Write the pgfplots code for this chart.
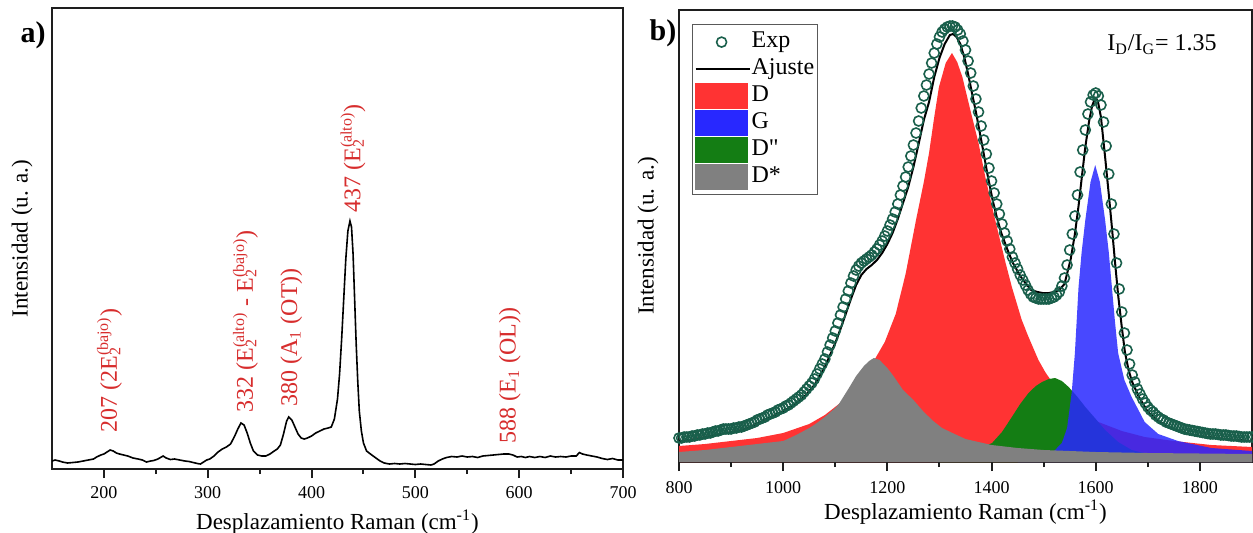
\documentclass[border=0pt]{standalone}
\usepackage{fontspec}
\setmainfont{Liberation Serif}
\usepackage{pgfplots}
\pgfplotsset{compat=1.18}
\usetikzlibrary{calc}

\definecolor{lblred}{RGB}{215,45,45}
\definecolor{cD}{RGB}{255,51,51}
\definecolor{cG}{RGB}{40,40,255}
\definecolor{cDpp}{RGB}{20,125,20}
\definecolor{cDs}{RGB}{128,128,128}
\definecolor{cexp}{RGB}{25,95,75}
\definecolor{axcol}{RGB}{30,30,30}

% E_2 with stacked sub- and superscript
\newcommand{\Etwo}[1]{E\rlap{\textsubscript{2}}\textsuperscript{(#1)}}

\pgfplotsset{
  panel/.style={
    scale only axis,
    axis line style={draw=axcol, line width=0.9pt},
    xtick align=outside,
    xtick pos=bottom,
    ytick=\empty,
    major tick length=4.5pt,
    minor tick length=2.5pt,
    major tick style={draw=axcol, line width=1pt},
    minor tick style={draw=axcol, line width=1pt},
    /pgf/number format/1000 sep={},
    /pgf/number format/assume math mode=true,
    xticklabel style={font=\fontsize{9}{10}\selectfont},
    label style={font=\fontsize{11.5}{13}\selectfont},
    ymin=0,
  },
}

\begin{document}
\begin{tikzpicture}
\useasboundingbox (0,0) rectangle (626.5pt,266pt);

% ---------------- panel a ----------------
\begin{axis}[panel, name=pa,
    at={(26pt,31.5pt)}, anchor=south west,
    width=285.5pt, height=230.5pt,
    xmin=150, xmax=700, ymax=461,
    xtick={200,300,400,500,600,700},
    minor xtick={250,350,450,550,650},
    xticklabel style={yshift=-0.5pt},
    xlabel={Desplazamiento Raman (cm\textsuperscript{-1})},
    xlabel style={at={(axis description cs:0.5,0)}, anchor=center, yshift=-26.5pt},
    ylabel={Intensidad (u. a.)},
    ylabel style={at={(axis description cs:-0.0525,0.5)}, anchor=center},
]
\addplot[black, line width=0.8pt] coordinates {
(150,8) (153,9) (157,8) (160,7) (165,6) (170,6.5) (175,7) (180,8) (185,9) (190,10)
(193,12) (197,14) (200,15) (203,17) (206,19) (209,18) (212,16) (215,15) (219,14) (223,13)
(228,11) (233,10) (237,9) (241,7) (245,8) (248,8.5) (252,10) (257,13) (260,11) (264,9.5)
(268,10) (273,9) (278,8) (282,7.5) (286,6.5) (290,5.5) (293,5) (296,7) (299,9) (302,10)
(306,13) (310,17) (314,20) (318,22) (322,25) (326,33) (329,40) (332,46) (335,44) (338,36)
(341,26) (344,18) (348,14) (352,13) (356,13) (360,15) (364,18) (367,20) (370,24) (373,35)
(376,48) (378,52) (381,49) (384,42) (387,35) (390,31) (393,30) (396,31) (400,33) (404,36)
(408,38) (412,40) (416,41) (419,42) (422,50) (425,70) (427,95) (429,130) (431,170) (433,210)
(435,238) (437,248) (438.5,242) (440,215) (441.5,170) (443,125) (444.5,88) (446,58) (448,38) (450,26)
(453,18) (458,14) (462,11) (466,8) (470,6) (475,5) (480,5.5) (485,5) (490,5.5) (495,5)
(500,4.5) (505,5) (510,4.5) (515,4) (518,5) (522,8) (526,10) (530,11.5) (535,12.5) (540,12)
(545,13) (550,12) (555,12.5) (560,11.5) (565,13) (570,13.5) (575,14) (580,14.5) (585,15) (590,15)
(594,14) (598,12) (602,12.5) (606,11.5) (610,12.5) (615,11.5) (620,12.5) (625,11.5) (630,13) (635,12)
(640,12.5) (645,12) (650,13) (655,13) (658,16.5) (661,15) (665,14) (670,13) (675,12) (680,10.5)
(685,9.5) (690,10.5) (695,9) (700,9)
};
\begin{scope}[every node/.style={rotate=90, anchor=base west, inner sep=0pt,
    text=lblred, font=\fontsize{12}{13}\selectfont}]
\node at (axis cs:212.5,36) {207 (2\Etwo{bajo})};
\node at (axis cs:343.5,56) {332 (\Etwo{alto} - \Etwo{bajo})};
\node at (axis cs:386,62) {380 (A\textsubscript{1} (OT))};
\node at (axis cs:447,256) {437 (\Etwo{alto})};
\node at (axis cs:596.5,25) {588 (E\textsubscript{1} (OL))};
\end{scope}
\end{axis}

% ---------------- panel b ----------------
\begin{axis}[panel, name=pb,
    at={(339.5pt,35pt)}, anchor=south west,
    width=286.5pt, height=226pt,
    xmin=800, xmax=1900, ymax=452,
    xtick={800,1000,1200,1400,1600,1800},
    minor xtick={900,1100,1300,1500,1700},
    xticklabel style={yshift=-1.5pt},
    xlabel={Desplazamiento Raman (cm\textsuperscript{-1})},
    xlabel style={at={(axis description cs:0.5,0)}, anchor=center, yshift=-25pt},
    ylabel={Intensidad (u. a.)},
    ylabel style={at={(axis description cs:-0.0541,0.5)}, anchor=center},
    legend style={at={(axis description cs:0,1)}, anchor=north west,
        xshift=6.5pt, yshift=-7pt, draw=gray!70!black, line width=0.6pt,
        fill=white, font=\fontsize{12}{13}\selectfont,
        inner xsep=1pt, inner ysep=2pt, row sep=0pt,
        nodes={inner sep=0.5pt, text height=9pt, text depth=3.5pt}},
    legend cell align=left,
]
% D
\addplot[fill=cD, draw=none, forget plot] coordinates {
(800,16) (850,18) (900,21) (950,24) (1000,29) (1050,38) (1080,47) (1107,58) (1130,70) (1150,82)
(1175,102) (1195,120) (1216,148) (1235,188) (1255,242) (1270,280) (1280,309) (1290,345) (1299,375) (1312,399)
(1324,409) (1334,400) (1344,385) (1356,359) (1375,319) (1388,285) (1407,242) (1427,199) (1439,175) (1458,142)
(1471,125) (1490,102) (1503,90) (1516,80) (1540,64) (1560,53) (1600,41) (1650,31) (1694,25) (1750,21)
(1822,17) (1900,15)
} \closedcycle;
% D''
\addplot[fill=cDpp, draw=none, forget plot] coordinates {
(1300,8) (1350,11) (1380,14) (1401,19) (1420,30) (1439,45) (1455,58) (1471,69) (1485,76) (1497,80)
(1510,83) (1522,84) (1535,81) (1548,75) (1565,65) (1580,55) (1600,43) (1618,32) (1643,20) (1669,12)
(1700,8) (1750,6) (1800,5) (1900,4)
} \closedcycle;
% G
\addplot[fill=cG, fill opacity=0.85, draw=none, forget plot] coordinates {
(1450,4) (1500,7) (1520,11) (1535,19) (1545,34) (1554,70) (1560,109) (1567,175) (1573,210) (1580,242)
(1590,280) (1599,297) (1608,280) (1618,242) (1625,210) (1631,175) (1637,140) (1643,109) (1655,82) (1669,65)
(1694,40) (1720,28) (1758,21) (1822,14) (1900,11)
} \closedcycle;
% D*
\addplot[fill=cDs, draw=none, forget plot] coordinates {
(800,10) (850,12) (900,15) (950,18) (1000,21) (1025,27) (1050,34) (1062,38) (1080,45) (1100,54)
(1107,58) (1125,73) (1140,86) (1155,96) (1165,101) (1174,104) (1185,102) (1200,94) (1213,85) (1230,72)
(1250,62) (1270,50) (1288,41) (1305,34) (1325,29) (1350,23) (1400,17) (1450,14) (1500,12) (1550,11)
(1600,10) (1700,9) (1800,8.5) (1900,8)
} \closedcycle;
% Exp
\addplot[only marks, mark=o, mark size=2.5pt, mark options={draw=cexp, line width=0.8pt}, forget plot] coordinates {
(800,24) (805,24) (810,25) (815,25) (820,25) (825,26) (830,26) (835,27) (840,27) (845,28)
(850,28) (855,29) (860,29) (865,30) (870,31) (875,31) (880,32) (885,33) (890,33) (895,33)
(900,33) (905,34) (910,34) (915,35) (920,35) (925,36) (930,37) (935,38) (940,39) (945,40)
(950,42) (955,43) (960,44) (965,45) (970,47) (975,48) (980,49) (985,50) (990,52) (995,53)
(1000,54) (1005,56) (1010,57) (1015,59) (1020,61) (1025,63) (1030,65) (1035,67) (1040,70) (1045,73)
(1050,76) (1055,79) (1060,83) (1065,88) (1070,93) (1075,98) (1080,103) (1085,110) (1090,117) (1095,124)
(1100,131) (1105,139) (1110,147) (1115,155) (1120,163) (1125,171) (1130,179) (1135,186) (1140,192) (1145,196)
(1150,199) (1155,201) (1160,203) (1165,205) (1170,207) (1175,210) (1180,213) (1185,217) (1190,221) (1195,226)
(1200,231) (1205,237) (1210,243) (1215,250) (1220,258) (1225,267) (1230,276) (1235,285) (1240,295) (1245,306)
(1250,317) (1255,329) (1260,341) (1265,354) (1270,366) (1275,377) (1280,388) (1285,399) (1290,409) (1295,418)
(1300,425) (1305,430) (1310,433) (1315,435) (1320,436) (1325,436) (1330,435) (1335,432) (1340,428) (1345,421)
(1350,412) (1355,401) (1360,389) (1365,376) (1370,363) (1375,350) (1380,336) (1385,322) (1390,308) (1395,294)
(1400,281) (1405,269) (1410,258) (1415,248) (1420,238) (1425,229) (1430,221) (1435,213) (1440,205) (1445,199)
(1450,193) (1455,187) (1460,182) (1465,177) (1470,172) (1475,168) (1480,165) (1485,164) (1490,163) (1495,163)
(1500,163) (1505,163) (1510,163) (1515,164) (1520,165) (1525,167) (1530,170) (1535,176) (1540,184) (1545,197)
(1550,212) (1555,228) (1560,246) (1565,267) (1570,290) (1575,312) (1580,332) (1585,348) (1590,360) (1595,367)
(1600,369) (1605,366) (1610,357) (1615,340) (1620,316) (1625,288) (1630,258) (1635,228) (1640,199) (1645,173)
(1650,150) (1655,129) (1660,112) (1665,98) (1670,87) (1675,80) (1680,73) (1685,68) (1690,63) (1695,59)
(1700,55) (1705,52) (1710,50) (1715,47) (1720,45) (1725,43) (1730,42) (1735,40) (1740,39) (1745,38)
(1750,37) (1755,36) (1760,35) (1765,34) (1770,33) (1775,32.5) (1780,32) (1785,31.5) (1790,31) (1795,30.5)
(1800,30) (1805,29.5) (1810,29) (1815,28.5) (1820,28) (1825,28) (1830,28) (1835,27.5) (1840,27) (1845,27)
(1850,27) (1855,26.5) (1860,26) (1865,26) (1870,26) (1875,25.5) (1880,25) (1885,25) (1890,25) (1895,25)
(1900,25)
};
% Ajuste
\addplot[black, line width=1pt, forget plot] coordinates {
(800,21) (820,22) (840,24) (860,26) (880,28) (900,30) (920,32) (940,36) (960,41) (980,46)
(1000,51) (1020,57) (1040,65) (1060,77) (1080,95) (1100,119) (1110,133) (1120,148) (1130,163) (1140,177)
(1150,187) (1160,193) (1170,197) (1180,202) (1190,209) (1200,218) (1210,229) (1220,243) (1230,259) (1240,275)
(1250,295) (1260,318) (1270,342) (1280,360) (1290,385) (1300,404) (1310,418) (1320,427) (1326,428) (1333,425)
(1340,418) (1348,404) (1355,388) (1362,370) (1370,350) (1383,314) (1392,288) (1402,262) (1410,245) (1418,230)
(1430,213) (1440,200) (1455,186) (1465,179) (1476,172) (1488,170) (1498,169) (1510,169) (1520,170) (1530,172)
(1540,178) (1552,203) (1560,228) (1567,256) (1574,288) (1580,315) (1587,340) (1593,356) (1599,364) (1604,361)
(1610,345) (1618,305) (1625,268) (1631,235) (1637,200) (1643,167) (1650,135) (1656,110) (1663,92) (1670,80)
(1682,66) (1700,50) (1720,41) (1740,35) (1760,31) (1780,28) (1800,26) (1850,23) (1900,21)
};
\addlegendimage{legend image code/.code={\draw[cexp, line width=0.8pt] (13pt,0pt) circle (2.5pt);}}
\addlegendentry{Exp}
\addlegendimage{legend image code/.code={\draw[black, line width=1pt] (0pt,0pt) -- (27pt,0pt);}}
\addlegendentry{Ajuste}
\addlegendimage{legend image code/.code={\fill[cD] (0pt,-6.2pt) rectangle (26pt,6.2pt);}}
\addlegendentry{D}
\addlegendimage{legend image code/.code={\fill[cG] (0pt,-6.2pt) rectangle (26pt,6.2pt);}}
\addlegendentry{G}
\addlegendimage{legend image code/.code={\fill[cDpp] (0pt,-6.2pt) rectangle (26pt,6.2pt);}}
\addlegendentry{D\textquotedbl}
\addlegendimage{legend image code/.code={\fill[cDs] (0pt,-6.2pt) rectangle (26pt,6.2pt);}}
\addlegendentry{D*}
\node[font=\fontsize{12}{13}\selectfont, inner sep=0pt] at (rel axis cs:0.843,0.923)
    {I\textsubscript{D}/I\textsubscript{G}= 1.35};
\end{axis}

% tick marks below both axes
\begin{scope}[axcol, line width=1pt]
\foreach \x in {200,300,...,700}
  \draw ($(pa.south west)!{(\x-150)/550}!(pa.south east)$) -- ++(0,-4.5pt);
\foreach \x in {250,350,...,650}
  \draw ($(pa.south west)!{(\x-150)/550}!(pa.south east)$) -- ++(0,-2.5pt);
\foreach \x in {800,1000,...,1800}
  \draw ($(pb.south west)!{(\x-800)/1100}!(pb.south east)$) -- ++(0,-4.5pt);
\foreach \x in {900,1100,...,1700}
  \draw ($(pb.south west)!{(\x-800)/1100}!(pb.south east)$) -- ++(0,-2.5pt);
\end{scope}

\node[font=\fontsize{15}{16}\selectfont\bfseries] at (16.5pt,248.5pt) {a)};
\node[font=\fontsize{15}{16}\selectfont\bfseries] at (331.5pt,249.5pt) {b)};
\end{tikzpicture}
\end{document}
